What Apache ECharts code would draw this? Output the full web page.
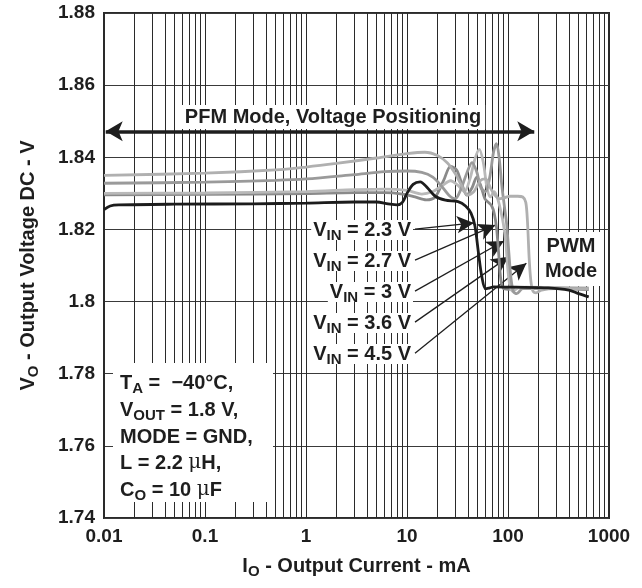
<!DOCTYPE html>
<html><head><meta charset="utf-8">
<script src="https://cdn.jsdelivr.net/npm/echarts@6/dist/echarts.min.js"></script>
<style>html,body{margin:0;padding:0;background:#fff}#c{width:642px;height:588px}</style>
</head><body><div id="c"></div>
<script>
// ---- data (I_O in mA, V_O in V) ----
const xTickLabels = ['0.01','0.1','1','10','100','1000'];
const yTickValues = [1.74,1.76,1.78,1.80,1.82,1.84,1.86,1.88];
const vinLabels = ['2.3 V','2.7 V','3 V','3.6 V','4.5 V'];
const vin23 = [[0.01,1.8255],[0.0115,1.8265],[0.014,1.8268],[0.05,1.827],[0.3,1.8271],[1,1.8273],[3,1.8276],[5,1.8276],[6.5,1.8271],[8,1.8268],[9,1.8275],[10,1.830],[11.5,1.8325],[13.5,1.8332],[16,1.8315],[19,1.8292],[24,1.8281],[32,1.8277],[38,1.8265],[43,1.8245],[47,1.821],[51,1.8135],[55,1.807],[60,1.8035],[66,1.8038],[72,1.8041],[120,1.804],[250,1.8038],[400,1.8032],[500,1.8022],[630,1.8013]];
const vin27 = [[0.01,1.8296],[0.1,1.8297],[1,1.8299],[3,1.8302],[6,1.8302],[9,1.8298],[12,1.829],[15.5,1.8282],[19,1.829],[23,1.8335],[27,1.8375],[31,1.8365],[35,1.8325],[39,1.8295],[44,1.8315],[49,1.8345],[54,1.832],[59,1.8285],[64,1.8275],[69,1.8265],[73,1.8245],[77,1.8205],[81,1.813],[85,1.806],[90,1.8036],[100,1.8034],[130,1.8039],[250,1.8037],[630,1.8033]];
const vin30 = [[0.01,1.8300],[0.1,1.8301],[1,1.8305],[3,1.8310],[6,1.8312],[10,1.8308],[14,1.8298],[18,1.8305],[22,1.832],[27,1.8335],[32,1.8322],[37,1.8305],[42,1.834],[47,1.8395],[52,1.8422],[57,1.8385],[62,1.8315],[67,1.829],[73,1.8305],[79,1.8285],[85,1.825],[90,1.8215],[95,1.8165],[100,1.8085],[105,1.804],[112,1.8028],[125,1.8038],[150,1.804],[300,1.8039],[630,1.8038]];
const vin36 = [[0.01,1.8328],[0.1,1.8331],[0.5,1.8336],[1,1.834],[3,1.8352],[6,1.836],[10,1.8362],[14,1.8358],[18,1.8345],[22,1.832],[26,1.8295],[30,1.8285],[34,1.831],[39,1.8355],[44,1.8385],[49,1.836],[54,1.8315],[60,1.8305],[66,1.8345],[72,1.8415],[77,1.8438],[82,1.8395],[87,1.832],[92,1.8265],[97,1.8215],[102,1.8135],[107,1.8065],[113,1.8028],[122,1.8022],[140,1.8036],[300,1.8036],[630,1.8036]];
const vin45 = [[0.01,1.835],[0.1,1.8356],[0.5,1.8365],[1,1.8373],[2,1.8383],[5,1.8398],[10,1.841],[15,1.8414],[20,1.8405],[25,1.8385],[30,1.8355],[35,1.832],[40,1.8295],[46,1.8305],[53,1.8335],[60,1.834],[67,1.8315],[74,1.8295],[82,1.8285],[92,1.8288],[105,1.8292],[125,1.8292],[140,1.829],[150,1.8275],[156,1.822],[162,1.812],[168,1.806],[176,1.803],[190,1.8024],[215,1.8032],[300,1.8036],[630,1.8035]];
// annotation anchors (data coords)
const pfmArrow = [[0.0104,1.8472],[182,1.8472]];
const leaderStart = [[12,1.8201],[12,1.8115],[12,1.8029],[12,1.7943],[12,1.7857]];
const leaderTip = [[46,1.8218],[75,1.8212],[91,1.8168],[101,1.8124],[152,1.8106]];
const gridX = [];
[0.01,0.1,1,10,100].forEach(d => { for (let k = 1; k <= 9; k++) gridX.push(+(d*k).toPrecision(3)); });
gridX.push(1000);

const FF = '"Liberation Sans", Arial, Helvetica, sans-serif';
const TXT = '#1e1e1e';
const sub = {fontSize:15, fontWeight:'bold', fontFamily:FF, fill:TXT, color:TXT, padding:[11,0,0,0], lineHeight:16};
const mu = {fontSize:20, fontWeight:'normal', fontFamily:'"DejaVu Serif", serif', fill:TXT};

const allSeries = [vin23, vin27, vin30, vin36, vin45];
const colors = ['#1c1c1c','#8a8a8a','#b9b9b9','#9a9a9a','#b0b0b0'];

const chart = echarts.init(document.getElementById('c'), null, {renderer:'canvas'});

const series = [{
  type:'line', name:'grid', data:[], z:1, silent:true,
  markLine:{silent:true, symbol:'none', animation:false, label:{show:false},
    lineStyle:{color:'#2a2a2a', width:1, type:'solid'},
    data: gridX.map(v => ({xAxis:v}))}
}];
allSeries.forEach((d,i) => series.push({
  type:'line', name:'VIN = ' + vinLabels[i], data:d, showSymbol:false, smooth:0.3,
  z: i === 0 ? 9 : 5 + i*0.1,
  lineStyle:{color:colors[i], width:2.8}, itemStyle:{color:colors[i]}
}));
series.push({
  type:'line', name:'annot', data:[], zlevel:2, z:12, clip:false, silent:true,
  markLine:{silent:true, animation:false, label:{show:false}, precision:6,
    data: [
      [{coord:pfmArrow[0], symbol:'arrow', symbolSize:[15,17], lineStyle:{color:'#1e1e1e', width:3.5, type:'solid'}},
       {coord:pfmArrow[1], symbol:'arrow', symbolSize:[15,17]}]
    ].concat(leaderStart.map((s,i) => [
      {coord:s, symbol:'none', lineStyle:{color:'#1e1e1e', width:1.3, type:'solid'}},
      {coord:leaderTip[i], symbol:'arrow', symbolSize:[13,17]}
    ]))
  }
});

const textBase = {fontSize:20, fontWeight:'bold', fontFamily:FF, fill:TXT};

const graphics = [
  {type:'rect', zlevel:1, shape:{x:113, y:363, width:160, height:139}, style:{fill:'#fff'}, z:3},
  {type:'text', zlevel:1, x:333, y:117, z:4, style:Object.assign({}, textBase, {text:'PFM Mode, Voltage Positioning', align:'center', verticalAlign:'middle', backgroundColor:'#fff', padding:[2,4]})},
  {type:'text', zlevel:1, x:571, y:259, z:4, style:Object.assign({}, textBase, {text:'PWM\nMode', align:'center', verticalAlign:'middle', lineHeight:25, backgroundColor:'#fff', padding:[2,3]})}
];
const labelY = [230, 261, 292, 323, 354];
vinLabels.forEach((t,i) => graphics.push({
  type:'text', zlevel:1, x:413, y:labelY[i], z:4,
  style:Object.assign({}, textBase, {text:'V{s|IN} = ' + t, align:'right', verticalAlign:'middle', backgroundColor:'#fff', padding:[0,2], rich:{s:sub}})
}));
const boxLines = ['T{s|A} =  \u221240\u00b0C,', 'V{s|OUT} = 1.8 V,', 'MODE = GND,', 'L = 2.2 {m|\u03bc}H,', 'C{s|O} = 10 {m|\u03bc}F'];
const boxY = [383, 410, 437, 463, 490];
boxLines.forEach((t,i) => graphics.push({
  type:'text', zlevel:1, x:120, y:boxY[i], z:4,
  style:Object.assign({}, textBase, {text:t, align:'left', verticalAlign:'middle', rich:{s:sub, m:mu}})
}));

chart.setOption({
  animation:false,
  backgroundColor:'#fff',
  grid:{left:104, right:33, top:13, bottom:70, show:true, borderColor:'#2a2a2a', borderWidth:2, backgroundColor:'transparent'},
  xAxis:{type:'log', logBase:10, min:0.01, max:1000,
    name:'I{s|O} - Output Current - mA', nameLocation:'middle', nameGap:38,
    nameTextStyle:{fontSize:20, fontWeight:'bold', fontFamily:FF, color:TXT, rich:{s:Object.assign({}, sub, {color:TXT})}},
    axisLine:{show:false}, axisTick:{show:false}, splitLine:{show:false},
    axisLabel:{fontSize:19, fontWeight:'bold', fontFamily:FF, color:TXT, margin:9,
      formatter: v => { const s = xTickLabels.find(l => Math.abs(parseFloat(l) - v) / v < 1e-6); return s || ''; }}
  },
  yAxis:{type:'value', min:1.74, max:1.88, interval:0.02,
    name:'V{s|O} - Output Voltage DC - V', nameLocation:'middle', nameGap:66,
    nameTextStyle:{fontSize:20, fontWeight:'bold', fontFamily:FF, color:TXT, rich:{s:Object.assign({}, sub, {color:TXT})}},
    axisLine:{show:false}, axisTick:{show:false},
    splitLine:{show:true, lineStyle:{color:'#3a3a3a', width:1}},
    axisLabel:{fontSize:19, fontWeight:'bold', fontFamily:FF, color:TXT, margin:9,
      formatter: v => { const m = yTickValues.find(t => Math.abs(t - v) < 1e-6); return m === undefined ? '' : String(+m.toFixed(2)); }}
  },
  series: series,
  graphic: graphics
});
</script>
</body></html>
